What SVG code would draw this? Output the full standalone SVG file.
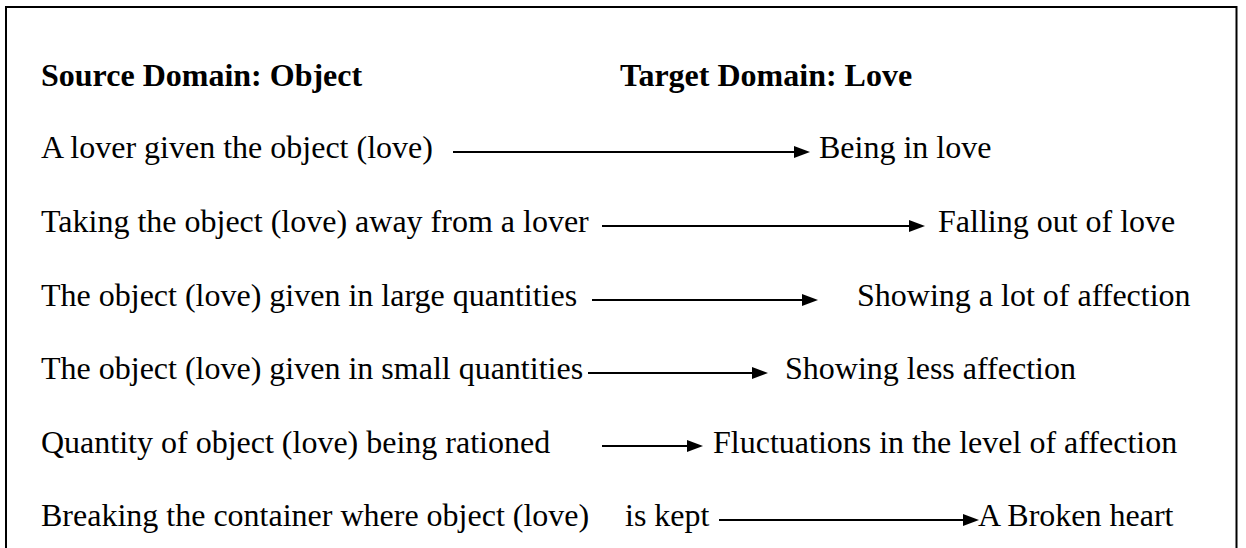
<svg xmlns="http://www.w3.org/2000/svg" width="1246" height="548" viewBox="0 0 1246 548">
<style>
text{font-family:"Liberation Serif","Times New Roman",serif;font-size:32px;fill:#000}
.h{font-weight:bold}
.c{stroke:#000;stroke-width:2.2;fill:none}
</style>
<defs>
<marker id="ah" markerUnits="userSpaceOnUse" markerWidth="17" markerHeight="13" refX="0" refY="6" orient="auto" overflow="visible">
<path d="M0,0 L16,6 L0,12 Z" fill="#000"/>
</marker>
</defs>
<rect width="1246" height="548" fill="#fff"/>
<path id="frame" d="M6,548 V7 H1236.5 V548" fill="none" stroke="#000" stroke-width="2"/>
<g id="headers">
<text class="h" x="41" y="86">Source Domain: Object</text>
<text class="h" x="620" y="86">Target Domain: Love</text>
</g>
<g id="row1"><text x="41" y="158">A lover given the object (love)</text><text x="819" y="158">Being in love</text></g>
<g id="row2"><text x="41" y="232">Taking the object (love) away from a lover</text><text x="938" y="232">Falling out of love</text></g>
<g id="row3"><text x="41" y="306">The object (love) given in large quantities</text><text x="857" y="306">Showing a lot of affection</text></g>
<g id="row4"><text x="41" y="379">The object (love) given in small quantities</text><text x="785" y="379">Showing less affection</text></g>
<g id="row5"><text x="41" y="453">Quantity of object (love) being rationed</text><text x="713" y="453">Fluctuations in the level of affection</text></g>
<g id="row6"><text x="41" y="526">Breaking the container where object (love)</text><text x="625" y="526">is kept</text><text x="978" y="526">A Broken heart</text></g>
<g id="connectors">
<line class="c" x1="453" y1="152" x2="794" y2="152" marker-end="url(#ah)"/>
<line class="c" x1="602" y1="226" x2="909" y2="226" marker-end="url(#ah)"/>
<line class="c" x1="592" y1="300" x2="802" y2="300" marker-end="url(#ah)"/>
<line class="c" x1="588" y1="373" x2="752" y2="373" marker-end="url(#ah)"/>
<line class="c" x1="602" y1="446" x2="687" y2="446" marker-end="url(#ah)"/>
<line class="c" x1="719" y1="520" x2="963" y2="520" marker-end="url(#ah)"/>
</g>
</svg>
